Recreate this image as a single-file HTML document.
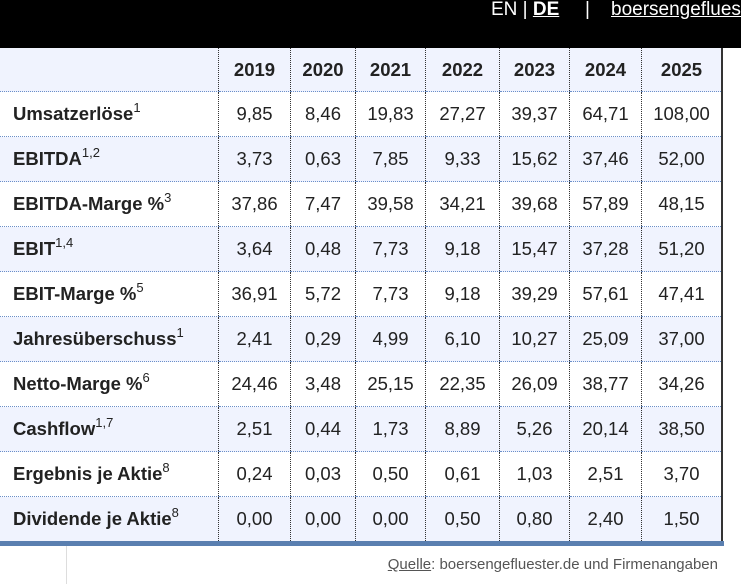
<!DOCTYPE html>
<html><head><style>
body{margin:0;width:741px;height:584px;background:#fff;font-family:"Liberation Sans",Arial,sans-serif;position:relative;overflow:hidden}
.top{position:absolute;left:0;top:0;width:741px;height:48px;background:#000;color:#fff;font-size:19px}
.top span{position:absolute;top:-1px;white-space:nowrap}
table{position:absolute;left:0;top:48px;border-collapse:collapse;font-size:18.5px;color:#222}
td{height:44px;padding:0;border-bottom:1px dotted #6a8fc8;border-left:1px dotted #333;text-align:center}
td:first-child{border-left:none;text-align:left;padding-left:13px;font-weight:bold;width:205px;white-space:nowrap}
tr:first-child td{font-weight:bold;height:43px}
tr.a{background:#f0f3fe}
td:last-child{border-right:2px solid #333}
sup{font-weight:normal;font-size:13px;vertical-align:8px;line-height:0}
.bb{position:absolute;left:0;top:541px;width:724px;height:5px;background:#5a7fb0}
.src{position:absolute;right:23px;top:556px;font-size:15px;color:#555}
.vl{position:absolute;left:66px;top:546px;width:1px;height:38px;background:#ddd}
</style></head><body>
<div class="top"><span style="left:491px">EN | <b><u>DE</u></b></span><span style="left:585px">|</span><span style="left:611px"><u>boersengefluester</u></span></div>
<table>
<tr class="a"><td></td><td style="width:71px">2019</td><td style="width:64px">2020</td><td style="width:69px">2021</td><td style="width:73px">2022</td><td style="width:69px">2023</td><td style="width:71px">2024</td><td style="width:79px">2025</td></tr>
<tr><td>Umsatzerlöse<sup>1</sup></td><td>9,85</td><td>8,46</td><td>19,83</td><td>27,27</td><td>39,37</td><td>64,71</td><td>108,00</td></tr>
<tr class="a"><td>EBITDA<sup>1,2</sup></td><td>3,73</td><td>0,63</td><td>7,85</td><td>9,33</td><td>15,62</td><td>37,46</td><td>52,00</td></tr>
<tr><td>EBITDA-Marge %<sup>3</sup></td><td>37,86</td><td>7,47</td><td>39,58</td><td>34,21</td><td>39,68</td><td>57,89</td><td>48,15</td></tr>
<tr class="a"><td>EBIT<sup>1,4</sup></td><td>3,64</td><td>0,48</td><td>7,73</td><td>9,18</td><td>15,47</td><td>37,28</td><td>51,20</td></tr>
<tr><td>EBIT-Marge %<sup>5</sup></td><td>36,91</td><td>5,72</td><td>7,73</td><td>9,18</td><td>39,29</td><td>57,61</td><td>47,41</td></tr>
<tr class="a"><td>Jahresüberschuss<sup>1</sup></td><td>2,41</td><td>0,29</td><td>4,99</td><td>6,10</td><td>10,27</td><td>25,09</td><td>37,00</td></tr>
<tr><td>Netto-Marge %<sup>6</sup></td><td>24,46</td><td>3,48</td><td>25,15</td><td>22,35</td><td>26,09</td><td>38,77</td><td>34,26</td></tr>
<tr class="a"><td>Cashflow<sup>1,7</sup></td><td>2,51</td><td>0,44</td><td>1,73</td><td>8,89</td><td>5,26</td><td>20,14</td><td>38,50</td></tr>
<tr><td>Ergebnis je Aktie<sup>8</sup></td><td>0,24</td><td>0,03</td><td>0,50</td><td>0,61</td><td>1,03</td><td>2,51</td><td>3,70</td></tr>
<tr class="a"><td style="border-bottom:none">Dividende je Aktie<sup>8</sup></td><td style="border-bottom:none">0,00</td><td style="border-bottom:none">0,00</td><td style="border-bottom:none">0,00</td><td style="border-bottom:none">0,50</td><td style="border-bottom:none">0,80</td><td style="border-bottom:none">2,40</td><td style="border-bottom:none">1,50</td></tr>
</table>
<div class="bb"></div>
<div class="vl"></div>
<div class="src"><u>Quelle</u>: boersengefluester.de und Firmenangaben</div>
</body></html>
